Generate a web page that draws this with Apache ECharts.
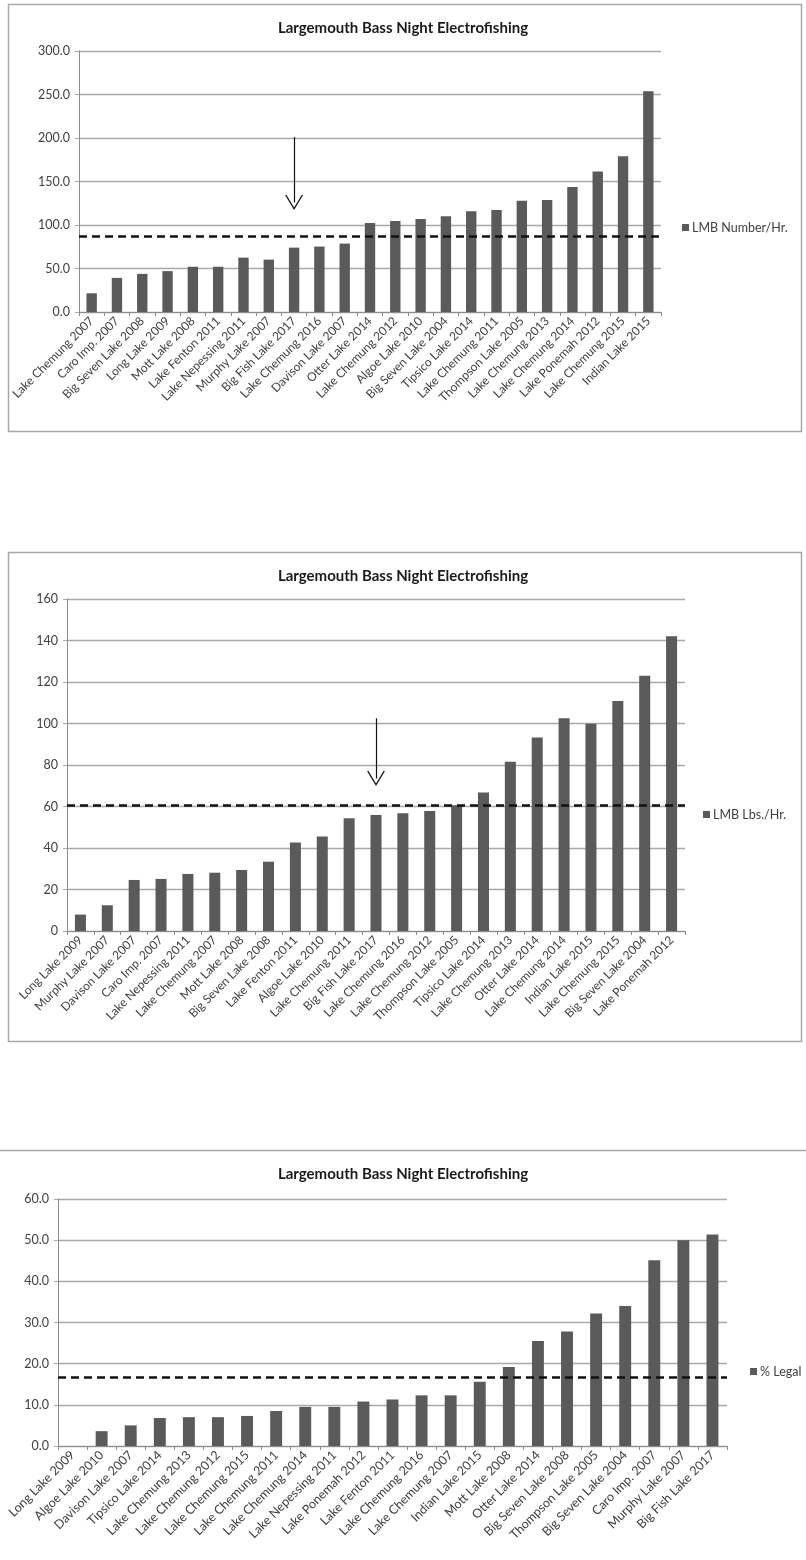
<!DOCTYPE html>
<html>
<head>
<meta charset="utf-8">
<script src="https://cdn.jsdelivr.net/npm/echarts@6/dist/echarts.min.js"></script>
<style>
  html, body { margin: 0; background: #fff; }
  #chart { width: 806px; height: 1560px; }
</style>
</head>
<body>
<div id="chart"></div>
<script>
// chart 1: number per hour
const lakesNum = ['Lake Chemung 2007', 'Caro Imp. 2007', 'Big Seven Lake 2008', 'Long Lake 2009', 'Mott Lake 2008',
  'Lake Fenton 2011', 'Lake Nepessing 2011', 'Murphy Lake 2007', 'Big Fish Lake 2017', 'Lake Chemung 2016',
  'Davison Lake 2007', 'Otter Lake 2014', 'Lake Chemung 2012', 'Algoe Lake 2010', 'Big Seven Lake 2004',
  'Tipsico Lake 2014', 'Lake Chemung 2011', 'Thompson Lake 2005', 'Lake Chemung 2013', 'Lake Chemung 2014',
  'Lake Ponemah 2012', 'Lake Chemung 2015', 'Indian Lake 2015']
const numPerHr = [21.5, 39.2, 43.8, 47, 52, 52, 62.5, 60.2, 74, 75.2, 78.6, 102.2, 104.6, 106.8, 110,
  115.8, 117.2, 127.8, 128.6, 143.8, 161.4, 179, 253.6]
const numAvg = 87.3
const numArrow = [201, 126]

// chart 2: pounds per hour
const lakesLbs = ['Long Lake 2009', 'Murphy Lake 2007', 'Davison Lake 2007', 'Caro Imp. 2007', 'Lake Nepessing 2011',
  'Lake Chemung 2007', 'Mott Lake 2008', 'Big Seven Lake 2008', 'Lake Fenton 2011', 'Algoe Lake 2010',
  'Lake Chemung 2011', 'Big Fish Lake 2017', 'Lake Chemung 2016', 'Lake Chemung 2012', 'Thompson Lake 2005',
  'Tipsico Lake 2014', 'Lake Chemung 2013', 'Otter Lake 2014', 'Lake Chemung 2014', 'Indian Lake 2015',
  'Lake Chemung 2015', 'Big Seven Lake 2004', 'Lake Ponemah 2012']
const lbsPerHr = [7.9, 12.4, 24.6, 25.1, 27.5, 28.1, 29.4, 33.4, 42.6, 45.6, 54.3, 55.9, 56.7, 57.8, 60.6,
  66.8, 81.6, 93.3, 102.5, 99.9, 110.8, 123, 142]
const lbsAvg = 60.4
const lbsArrow = [102.5, 73.5]

// chart 3: percent legal
const lakesLegal = ['Long Lake 2009', 'Algoe Lake 2010', 'Davison Lake 2007', 'Tipsico Lake 2014', 'Lake Chemung 2013',
  'Lake Chemung 2012', 'Lake Chemung 2015', 'Lake Chemung 2011', 'Lake Chemung 2014', 'Lake Nepessing 2011',
  'Lake Ponemah 2012', 'Lake Fenton 2011', 'Lake Chemung 2016', 'Lake Chemung 2007', 'Indian Lake 2015',
  'Mott Lake 2008', 'Otter Lake 2014', 'Big Seven Lake 2008', 'Thompson Lake 2005', 'Big Seven Lake 2004',
  'Caro Imp. 2007', 'Murphy Lake 2007', 'Big Fish Lake 2017']
const pctLegal = [0, 3.6, 5.0, 6.8, 7.0, 7.0, 7.3, 8.5, 9.5, 9.5, 10.8, 11.3, 12.3, 12.3, 15.6,
  19.2, 25.5, 27.8, 32.2, 34.0, 45.1, 50.0, 51.4]
const legalAvg = 16.7

const title = 'Largemouth Bass Night Electrofishing'
const FONT = 'Lato, "Open Sans", sans-serif'
const barColor = '#5a5a5a'
const gridColor = '#a9a9a9'
const textColor = '#404040'
// open V arrow head, drawn pointing up (echarts rotates it along the line)
const arrowHead = 'path://M0,20 L10,0 L20,20 L18.4,20 L10,3.2 L1.6,20 Z'

const panels = [
  { name: 'LMB Number/Hr.', cats: lakesNum, vals: numPerHr, avg: numAvg, arrow: numArrow,
    max: 300, interval: 50, digits: 1, top: 51, height: 261, left: 79, right: 145,
    titleTop: 16, legendLeft: 682, legendTop: 221, labelSize: 12 },
  { name: 'LMB Lbs./Hr.', cats: lakesLbs, vals: lbsPerHr, avg: lbsAvg, arrow: lbsArrow,
    max: 160, interval: 20, digits: 0, top: 599, height: 332, left: 67, right: 121,
    titleTop: 564, legendLeft: 703, legendTop: 808, labelSize: 12 },
  { name: '% Legal', cats: lakesLegal, vals: pctLegal, avg: legalAvg, arrow: null,
    max: 60, interval: 10, digits: 1, top: 1199, height: 247, left: 58, right: 79,
    titleTop: 1162, legendLeft: 750, legendTop: 1365, labelSize: 12.5 },
]

const option = {
  animation: false,
  backgroundColor: '#fff',
  textStyle: { fontFamily: FONT },
  title: panels.map((p) => ({
    text: title,
    left: 'center',
    top: p.titleTop,
    textStyle: { fontSize: 15, fontWeight: 'bold', color: '#1a1a1a', fontFamily: FONT },
  })),
  legend: panels.map((p) => ({
    data: [p.name],
    left: p.legendLeft,
    top: p.legendTop,
    icon: 'rect',
    itemWidth: 7,
    itemHeight: 7,
    itemGap: 4,
    padding: 0,
    textStyle: { fontSize: 12.5, color: textColor, fontFamily: FONT, padding: [0, 0, 0, -2] },
  })),
  grid: panels.map((p) => ({ left: p.left, right: p.right, top: p.top, height: p.height })),
  xAxis: panels.map((p, ii) => ({
    type: 'category',
    gridIndex: ii,
    data: p.cats,
    axisLine: { lineStyle: { color: '#8c8c8c', width: 1 } },
    axisTick: { show: true, length: 4, lineStyle: { color: '#8c8c8c' } },
    axisLabel: { rotate: 45, interval: 0, margin: 7, fontSize: p.labelSize, color: textColor, fontFamily: FONT },
  })),
  yAxis: panels.map((p, ii) => ({
    type: 'value',
    gridIndex: ii,
    min: 0,
    max: p.max,
    interval: p.interval,
    axisLine: { show: true, lineStyle: { color: '#8c8c8c', width: 1 } },
    axisTick: { show: true, length: 4, lineStyle: { color: gridColor } },
    axisLabel: {
      fontSize: 12.5, color: textColor, margin: 9, fontFamily: FONT,
      formatter: (val) => val.toFixed(p.digits),
    },
    splitLine: { lineStyle: { color: gridColor, width: 1.3 } },
  })),
  series: panels.map((p, ii) => {
    const lines = [
      { yAxis: p.avg, lineStyle: { color: '#111', width: 2.6, type: [8, 5] } },
    ]
    if (p.arrow) {
      // arrow pointing down at Big Fish Lake 2017
      lines.push([
        { coord: ['Big Fish Lake 2017', p.arrow[0]], lineStyle: { color: '#111', width: 1.2, type: 'solid' } },
        { coord: ['Big Fish Lake 2017', p.arrow[1]], symbol: arrowHead, symbolSize: [18, 15] },
      ])
    }
    return {
      name: p.name,
      type: 'bar',
      xAxisIndex: ii,
      yAxisIndex: ii,
      data: p.vals,
      barWidth: '41%',
      itemStyle: { color: barColor },
      markLine: {
        silent: true,
        symbol: 'none',
        label: { show: false },
        data: lines,
      },
    }
  }),
  graphic: [
    { type: 'rect', shape: { x: 8.5, y: 4.5, width: 793, height: 427 },
      style: { fill: 'none', stroke: '#a8a8a8', lineWidth: 1.5 } },
    { type: 'rect', shape: { x: 8.5, y: 552.5, width: 793, height: 489 },
      style: { fill: 'none', stroke: '#a8a8a8', lineWidth: 1.5 } },
    { type: 'line', shape: { x1: 0, y1: 1150.5, x2: 806, y2: 1150.5 },
      style: { stroke: '#a8a8a8', lineWidth: 1.5 } },
  ],
}

const chart = echarts.init(document.getElementById('chart'))
chart.setOption(option)
</script>
</body>
</html>
